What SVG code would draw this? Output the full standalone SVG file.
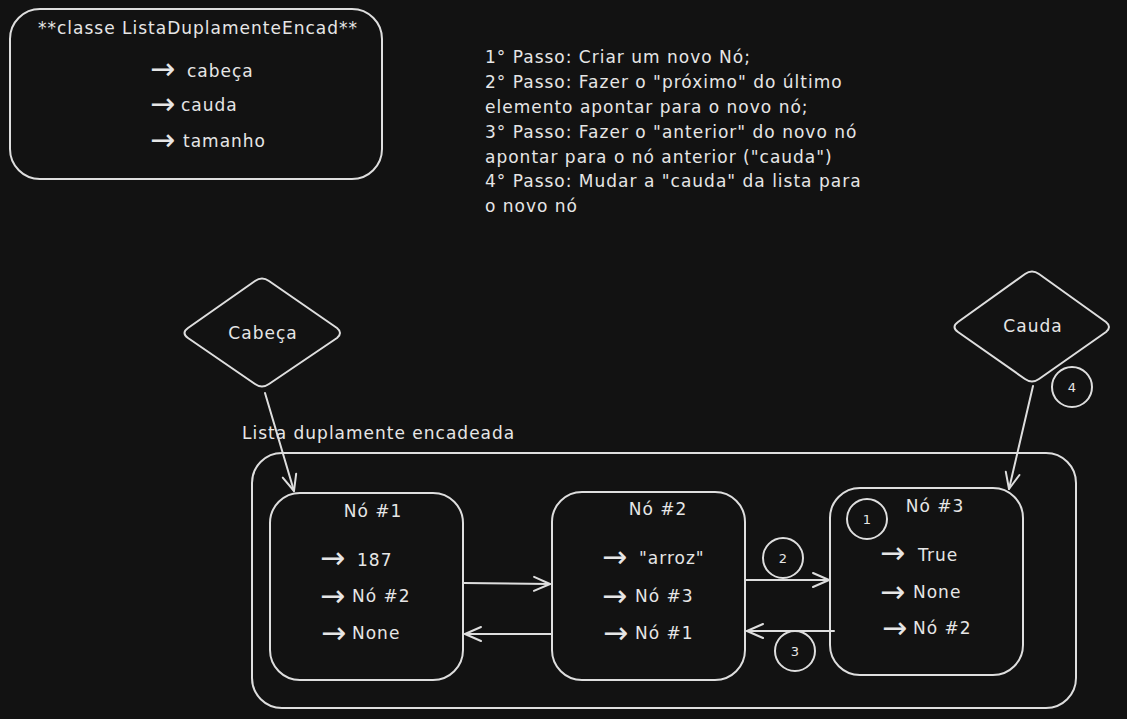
<svg xmlns="http://www.w3.org/2000/svg" width="1127" height="719" viewBox="0 0 1127 719">
  <style>
    .bg { fill: #121212; }
    .shape { fill: none; stroke: #dedede; stroke-width: 2; stroke-linejoin: round; stroke-linecap: round; }
    .conn { fill: none; stroke: #dedede; stroke-width: 2; stroke-linecap: round; }
    .t { fill: #e6e6e6; font-family: "DejaVu Sans", "Liberation Sans", sans-serif; font-size: 17px; letter-spacing: 1px; }
    .c { text-anchor: middle; }
    .small { font-size: 13px; letter-spacing: 0; }
    .arr { font-size: 30px; letter-spacing: 0; }
  </style>
  <defs>
    <marker id="head" viewBox="0 0 20 20" refX="18" refY="10" markerWidth="20" markerHeight="20" markerUnits="userSpaceOnUse" orient="auto">
      <path d="M2,3 L18,10 L2,17" fill="none" stroke="#dedede" stroke-width="2" stroke-linecap="round" stroke-linejoin="round"/>
    </marker>
  </defs>

  <rect class="bg" x="0" y="0" width="1127" height="719"/>

  <!-- Class summary box -->
  <g id="classe-lista">
    <rect class="shape" x="10" y="9" width="372" height="170" rx="30"/>
    <text class="t c" x="198" y="34">**classe ListaDuplamenteEncad**</text>
    <text class="t"><tspan class="arr" x="150" y="79">→</tspan><tspan x="187" y="77">cabeça</tspan></text>
    <text class="t"><tspan class="arr" x="150" y="114">→</tspan><tspan x="181" y="111">cauda</tspan></text>
    <text class="t"><tspan class="arr" x="150" y="150">→</tspan><tspan x="183" y="147">tamanho</tspan></text>
  </g>

  <!-- Step list -->
  <g id="passos">
    <text class="t" x="485" y="63">1° Passo: Criar um novo Nó;</text>
    <text class="t" x="485" y="88">2° Passo: Fazer o "próximo" do último</text>
    <text class="t" x="485" y="113">elemento apontar para o novo nó;</text>
    <text class="t" x="485" y="138">3° Passo: Fazer o "anterior" do novo nó</text>
    <text class="t" x="485" y="163">apontar para o nó anterior ("cauda")</text>
    <text class="t" x="485" y="187">4° Passo: Mudar a "cauda" da lista para</text>
    <text class="t" x="485" y="212">o novo nó</text>
  </g>

  <!-- Head pointer -->
  <g id="cabeca">
    <path class="shape" d="M255,281 Q262,276 269,281 L337,328 Q343,333 337,338 L269,384 Q262,389 255,384 L188,338 Q181,333 188,328 Z"/>
    <text class="t c" x="263" y="339">Cabeça</text>
  </g>

  <!-- Tail pointer -->
  <g id="cauda">
    <path class="shape" d="M1025,274 Q1032,269 1039,274 L1106,322 Q1112,327 1106,332 L1039,379 Q1032,384 1025,379 L958,332 Q951,327 958,322 Z"/>
    <text class="t c" x="1033" y="332">Cauda</text>
  </g>

  <!-- List container -->
  <g id="lista">
    <text class="t" x="242" y="439">Lista duplamente encadeada</text>
    <rect class="shape" x="252" y="453" width="824" height="255" rx="30"/>
  </g>

  <g id="no1">
    <rect class="shape" x="270" y="493" width="193" height="187" rx="30"/>
    <text class="t c" x="373" y="517">Nó #1</text>
    <text class="t"><tspan class="arr" x="320" y="568">→</tspan><tspan x="357" y="566">187</tspan></text>
    <text class="t"><tspan class="arr" x="320" y="606">→</tspan><tspan x="352" y="602">Nó #2</tspan></text>
    <text class="t"><tspan class="arr" x="321" y="643">→</tspan><tspan x="352" y="639">None</tspan></text>
  </g>

  <g id="no2">
    <rect class="shape" x="552" y="492" width="193" height="188" rx="30"/>
    <text class="t c" x="658" y="515">Nó #2</text>
    <text class="t"><tspan class="arr" x="602" y="567">→</tspan><tspan x="639" y="564">"arroz"</tspan></text>
    <text class="t"><tspan class="arr" x="602" y="606">→</tspan><tspan x="635" y="602">Nó #3</tspan></text>
    <text class="t"><tspan class="arr" x="603" y="643">→</tspan><tspan x="635" y="639">Nó #1</tspan></text>
  </g>

  <g id="no3">
    <rect class="shape" x="830" y="488" width="193" height="187" rx="30"/>
    <text class="t c" x="935" y="512">Nó #3</text>
    <text class="t"><tspan class="arr" x="880" y="563">→</tspan><tspan x="918" y="561">True</tspan></text>
    <text class="t"><tspan class="arr" x="880" y="602">→</tspan><tspan x="913" y="598">None</tspan></text>
    <text class="t"><tspan class="arr" x="882" y="638">→</tspan><tspan x="913" y="634">Nó #2</tspan></text>
  </g>

  <!-- Step markers -->
  <g id="marca1">
    <circle class="shape" cx="867" cy="519" r="20"/>
    <text class="t c small" x="867" y="524">1</text>
  </g>
  <g id="marca2">
    <circle class="shape" cx="783" cy="558" r="20"/>
    <text class="t c small" x="783" y="563">2</text>
  </g>
  <g id="marca3">
    <circle class="shape" cx="795" cy="651" r="20"/>
    <text class="t c small" x="795" y="656">3</text>
  </g>
  <g id="marca4">
    <circle class="shape" cx="1072" cy="387" r="20"/>
    <text class="t c small" x="1072" y="392">4</text>
  </g>

  <!-- Connectors -->
  <g id="conectores">
    <path class="conn" d="M265,393 L294,491" marker-end="url(#head)"/>
    <path class="conn" d="M1033,386 L1009,489" marker-end="url(#head)"/>
    <path class="conn" d="M464,583 L550,584" marker-end="url(#head)"/>
    <path class="conn" d="M551,634 L465,634" marker-end="url(#head)"/>
    <path class="conn" d="M746,580 L829,580" marker-end="url(#head)"/>
    <path class="conn" d="M834,631 L747,631" marker-end="url(#head)"/>
  </g>
</svg>
